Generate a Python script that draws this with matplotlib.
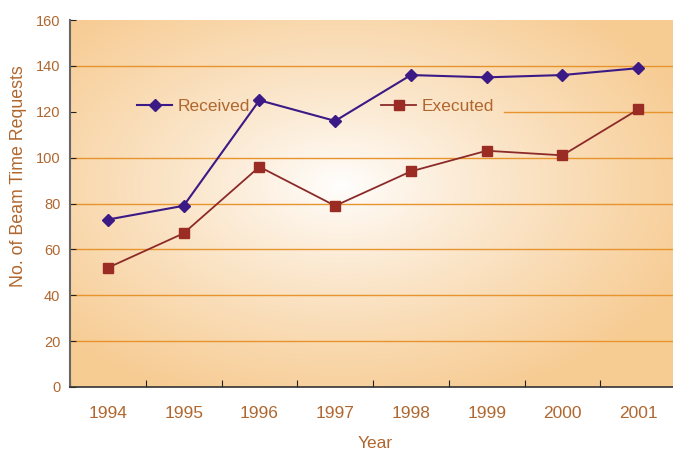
import matplotlib
matplotlib.use('Agg')
import matplotlib.pyplot as plt
import numpy as np

# data
years = ['1994', '1995', '1996', '1997', '1998', '1999', '2000', '2001']
received = [73, 79, 125, 116, 136, 135, 136, 139]
executed = [52, 67, 96, 79, 94, 103, 101, 121]

plt.rcParams['font.family'] = ['Liberation Sans', 'DejaVu Sans']

text_col = '#b0672f'
grid_col = '#e8942e'

fig = plt.figure(figsize=(6.73, 4.51), dpi=100)
ax = fig.add_axes([70 / 673, 64 / 451, 603 / 673, 367 / 451])

# radial gradient background
nx, ny = 400, 300
gx, gy = np.meshgrid(np.linspace(0, 1, nx), np.linspace(0, 1, ny))
cx, cy = 0.45, 0.55
r = np.sqrt(((gx - cx) / 0.62) ** 2 + ((gy - cy) / 0.62) ** 2)
r = np.clip(r, 0, 1) ** 0.85
c0 = np.array([1.0, 1.0, 1.0])
c1 = np.array([0.969, 0.800, 0.580])
img = c0[None, None, :] * (1 - r[..., None]) + c1[None, None, :] * r[..., None]
ax.imshow(img, extent=[0, 1, 0, 1], transform=ax.transAxes, aspect='auto',
          zorder=0, origin='lower')

x = np.arange(len(years))
ax.set_xlim(-0.5, 7.46)
ax.set_ylim(0, 160)

for yv in [20, 40, 60, 80, 100, 140]:
    ax.axhline(yv, color=grid_col, lw=1, zorder=1)
ax.axhline(120, xmin=0.72, xmax=1.0, color=grid_col, lw=1, zorder=1)

ax.plot(x, received, color='#3b1a86', lw=1.5, marker='D', markersize=6.5,
        label='Received', zorder=3)
ax.plot(x, executed, color='#8c2a2a', lw=1.3, marker='s', markersize=6.5,
        markerfacecolor='#9a2c24', markeredgecolor='#9a2c24',
        label='Executed', zorder=3)

ax.set_xticks(np.arange(-0.5, 7.5, 1), minor=False)
ax.set_xticklabels([])
ax.set_xticks(x, minor=True)
ax.set_xticklabels(years, minor=True)
ax.tick_params(axis='x', which='minor', length=0, pad=14, labelsize=12.5,
               labelcolor=text_col)
ax.tick_params(axis='x', which='major', direction='in', length=5, color='#222222')
ax.set_yticks(range(0, 161, 20))
ax.tick_params(axis='y', direction='in', length=4, labelsize=10.5,
               labelcolor=text_col, pad=7, color='#222222')

for s in ['top', 'right']:
    ax.spines[s].set_visible(False)
ax.spines['left'].set_color('#666666')
ax.spines['left'].set_linewidth(1.5)
ax.spines['bottom'].set_color('#333333')
ax.spines['bottom'].set_linewidth(1.2)

ax.set_xlabel('Year', fontsize=12.5, color=text_col)
ax.xaxis.set_label_coords(0.506, -0.155)
ax.xaxis.label.set_va('center')
ax.set_ylabel('No. of Beam Time Requests', fontsize=12.8, color=text_col)
ax.yaxis.set_label_coords(-0.086, 0.575)
ax.yaxis.label.set_va('center')

leg = ax.legend(loc='center left', bbox_to_anchor=(0.10, 0.765), ncol=2, frameon=False,
                fontsize=12.5, handlelength=2.0, handletextpad=0.3,
                columnspacing=7.6, borderaxespad=0)
for t in leg.get_texts():
    t.set_color(text_col)

fig.savefig('out.png', dpi=100)
